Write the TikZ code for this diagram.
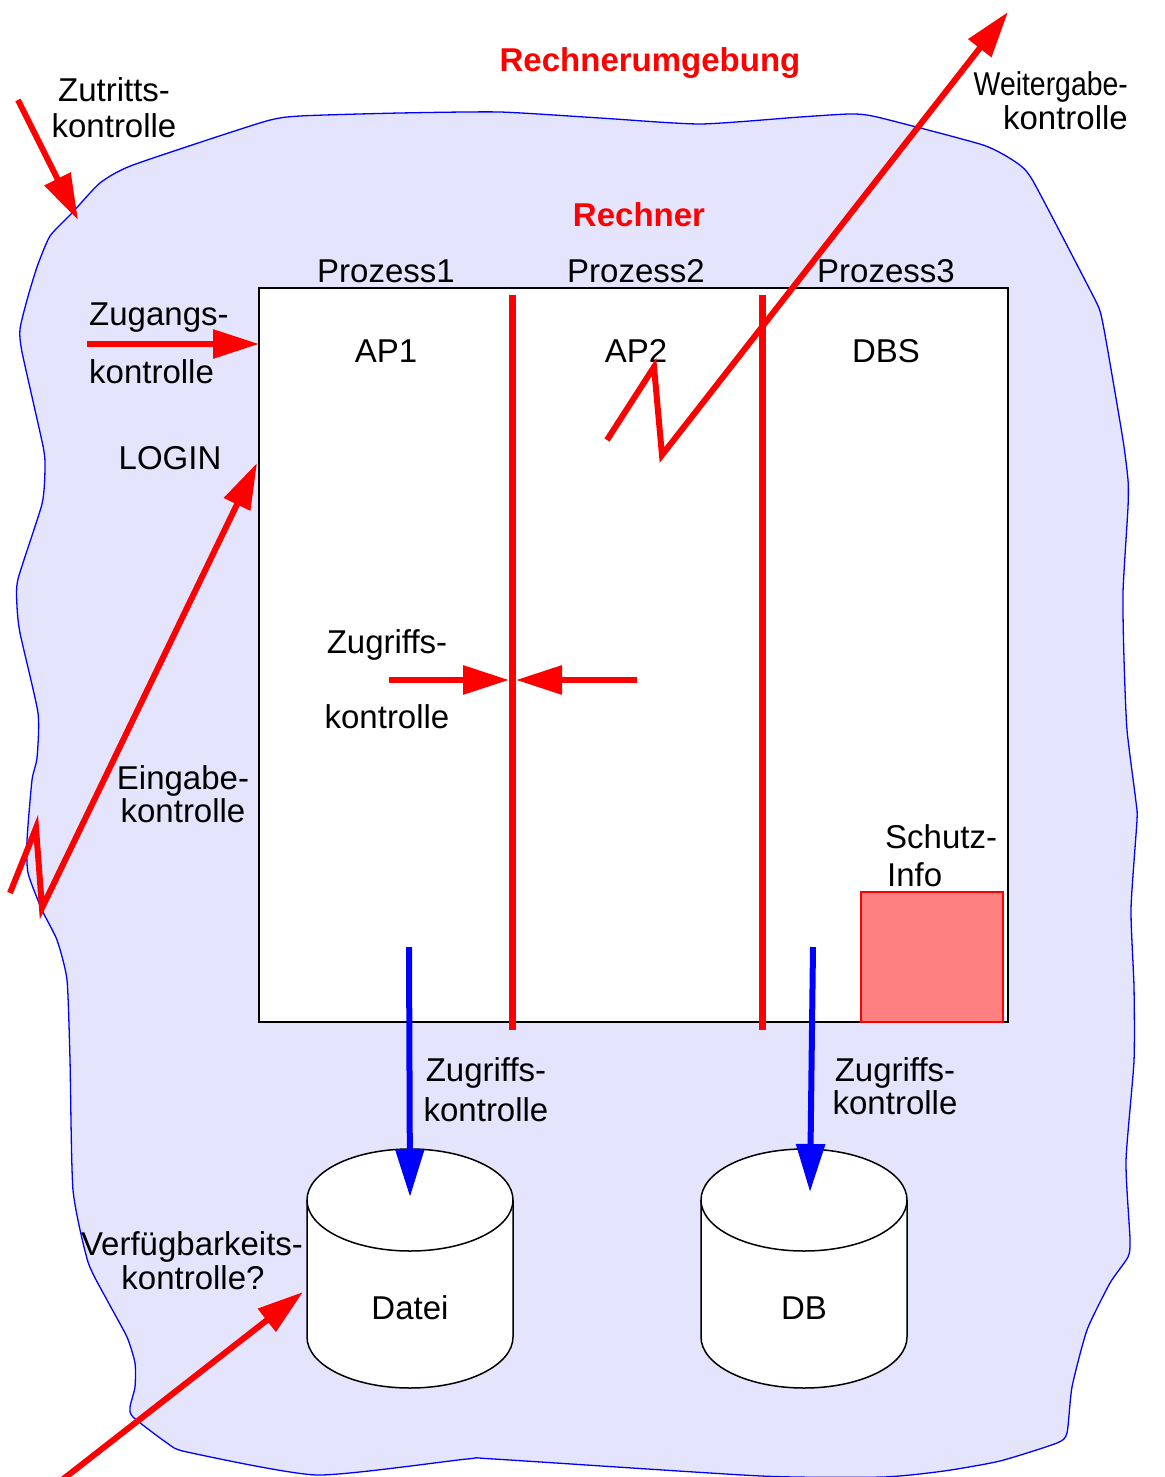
\documentclass[tikz,border=0pt]{standalone}
\usepackage{fontspec}
\setmainfont{Liberation Sans}
\usetikzlibrary{arrows.meta}
\definecolor{blobfill}{RGB}{228,228,252}
\definecolor{schutzfill}{RGB}{255,128,128}
\begin{document}
\begin{tikzpicture}[x=1pt,y=-1pt,
  lbl/.style={font=\fontsize{33}{38}\selectfont, inner sep=0pt, anchor=base},
  ttl/.style={font=\fontsize{33}{38}\selectfont\bfseries, inner sep=0pt, anchor=base, text=red},
  redarrow/.style={draw=red, line width=6pt, line join=miter, -{Triangle[length=46pt,width=28pt]}},
  bluearrow/.style={draw=blue, line width=6pt, -{Triangle[length=48pt,width=28pt]}},
  redbar/.style={draw=red, line width=7pt},
  cylside/.style={draw=black, line width=1.5pt, fill=white}]
\useasboundingbox (0,0) rectangle (1164,1477);

% environment blob
\draw[blue, line width=1.3pt, fill=blobfill] plot[smooth cycle, tension=0.35] coordinates {
(72,213) (100,183) (133,165) (263,122) (300,116) (400,113) (500,112) (600,118) (700,124)
(800,117) (850,114) (877,117) (983,145) (1017,163) (1033,181) (1087,284) (1100,311)
(1107,346) (1123,440) (1128,480) (1128,507) (1123,592) (1124,659) (1127,730) (1136,802)
(1137,820) (1131,909) (1134,987) (1134,1061) (1126,1161) (1130,1239) (1128,1257) (1110,1283)
(1087,1330) (1072,1387) (1067,1433) (1057,1443) (1000,1461) (944,1471) (883,1477) (761,1476)
(494,1459) (467,1459) (317,1475) (187,1452) (167,1443) (133,1417) (130,1407) (135,1387)
(135,1363) (127,1337) (107,1300) (88,1262) (73,1190) (70,1060) (67,980) (57,940) (42,910)
(28,873) (27,840) (32,780) (37,758) (38,713) (20,633) (17,606) (18,579) (42,504) (45,468)
(43,446) (22,352) (20,329) (27,300) (37,267) (50,236)};

% computer box
\draw[black, line width=2pt, fill=white] (259,288) rectangle (1008,1022);
\coordinate (boxW1) at (259,344);
\coordinate (boxW2) at (257,463);

% protection info
\draw[red, line width=2pt, fill=schutzfill] (861,892) rectangle (1003,1022);

% process separators
\coordinate (sep1t) at (512,295);
\coordinate (sep1b) at (512,1030);
\coordinate (sep2t) at (762,295);
\coordinate (sep2b) at (762,1030);
\draw[redbar] (sep1t) -- (sep1b);
\draw[redbar] (sep2t) -- (sep2b);

% cylinders
\draw[cylside] (307,1200) -- (307,1337) arc[start angle=180, end angle=360, x radius=103pt, y radius=51pt] -- (513,1200);
\draw[cylside] (410,1200) ellipse[x radius=103pt, y radius=51pt];
\draw[cylside] (701,1200) -- (701,1337) arc[start angle=180, end angle=360, x radius=103pt, y radius=51pt] -- (907,1200);
\draw[cylside] (804,1200) ellipse[x radius=103pt, y radius=51pt];

% titles
\node[ttl] (umg) at (650,72) {Rechnerumgebung};
\node[ttl] (rech) at (639,226) {Rechner};

% labels
\node[lbl] (zut1) at (114,102) {Zutritts-};
\node[lbl] (zut2) at (114,138) {kontrolle};
\node[lbl, anchor=base east] (wei1) at (1128,96) {\scalebox{0.86}[1]{Weitergabe-}};
\node[lbl, anchor=base east] (wei2) at (1128,130) {kontrolle};
\node[lbl] (p1) at (386,282) {Prozess1};
\node[lbl] (p2) at (636,282) {Prozess2};
\node[lbl] (p3) at (886,282) {Prozess3};
\node[lbl] (ap1) at (386,362) {AP1};
\node[lbl] (ap2) at (636,362) {AP2};
\node[lbl] (dbs) at (886,362) {DBS};
\node[lbl, anchor=base west] (zug1) at (89,325) {Zugangs-};
\node[lbl, anchor=base west] (zug2) at (89,383) {kontrolle};
\node[lbl] (login) at (170,469) {LOGIN};
\node[lbl] (zgr1) at (387,653) {Zugriffs-};
\node[lbl] (zgr2) at (387,728) {kontrolle};
\node[lbl] (ein1) at (183,789) {Eingabe-};
\node[lbl] (ein2) at (183,822) {kontrolle};
\node[lbl, anchor=base west] (sch1) at (885,848) {Schutz-};
\node[lbl, anchor=base west] (sch2) at (887,886) {Info};
\node[lbl] (zgrA1) at (486,1081) {Zugriffs-};
\node[lbl] (zgrA2) at (486,1121) {kontrolle};
\node[lbl] (zgrB1) at (895,1081) {Zugriffs-};
\node[lbl] (zgrB2) at (895,1114) {kontrolle};
\node[lbl] (ver1) at (192,1255) {Verfügbarkeits-};
\node[lbl] (ver2) at (193,1289) {kontrolle?};
\node[lbl] (datei) at (410,1319) {Datei};
\node[lbl] (db) at (804,1319) {DB};

% red arrows
\coordinate (zutS) at (18,100);
\coordinate (zutE) at (78,220);
\draw[redarrow] (zutS) -- (zutE);

\coordinate (zugS) at (87,344);
\draw[redarrow] (zugS) -- (boxW1);

\coordinate (weiS) at (607,440);
\coordinate (weiA) at (654,367);
\coordinate (weiB) at (662,455);
\coordinate (weiE) at (1008,12);
\draw[redarrow] (weiS) -- (weiA) -- (weiB) -- (weiE);

\coordinate (einS) at (10,893);
\coordinate (einA) at (36,828);
\coordinate (einB) at (42,908);
\draw[redarrow] (einS) -- (einA) -- (einB) -- (boxW2);

\coordinate (zaL) at (389,680);
\coordinate (zaLt) at (509,680);
\coordinate (zaR) at (637,680);
\coordinate (zaRt) at (516,680);
\draw[redarrow] (zaL) -- (zaLt);
\draw[redarrow] (zaR) -- (zaRt);

\coordinate (verS) at (62,1480);
\coordinate (verE) at (303,1292);
\draw[redarrow] (verS) -- (verE);

% blue arrows
\coordinate (b1s) at (409,947);
\coordinate (b1e) at (410,1197);
\coordinate (b2s) at (813,947);
\coordinate (b2e) at (810,1192);
\draw[bluearrow] (b1s) -- (b1e);
\draw[bluearrow] (b2s) -- (b2e);
\end{tikzpicture}
\end{document}
